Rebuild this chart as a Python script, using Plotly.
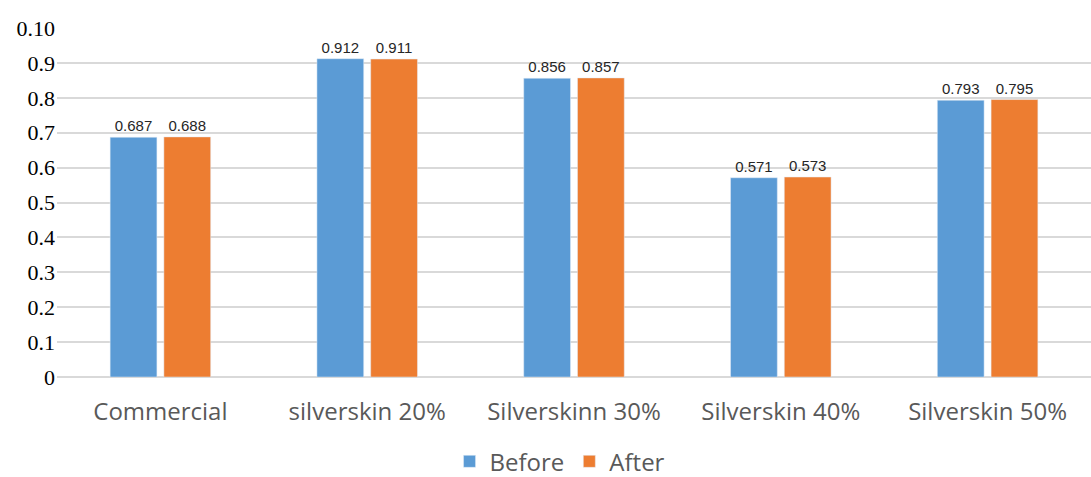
import plotly.graph_objects as go

categories = ["Commercial", "silverskin 20%", "Silverskinn 30%", "Silverskin 40%", "Silverskin 50%"]
before = [0.687, 0.912, 0.856, 0.571, 0.793]
after = [0.688, 0.911, 0.857, 0.573, 0.795]
tick_vals = [0, 0.1, 0.2, 0.3, 0.4, 0.5, 0.6, 0.7, 0.8, 0.9, 1.0]
tick_text = ["0", "0.1", "0.2", "0.3", "0.4", "0.5", "0.6", "0.7", "0.8", "0.9", "0.10"]

label_font = dict(family="Liberation Sans, Arial", size=15, color="#262626")
cat_font = dict(family="Open Sans, Liberation Sans", size=24, color="#595959")

fig = go.Figure()
fig.add_trace(go.Bar(
    name="Before", x=categories, y=before,
    marker=dict(color="#5B9BD5"),
    texttemplate="%{y:.3f}", textposition="outside", textfont=label_font,
    cliponaxis=False,
))
fig.add_trace(go.Bar(
    name="After", x=categories, y=after,
    marker=dict(color="#ED7D31"),
    texttemplate="%{y:.3f}", textposition="outside", textfont=label_font,
    cliponaxis=False,
))

fig.update_layout(
    width=1091, height=477,
    margin=dict(l=57, r=0, t=28, b=100),
    paper_bgcolor="white", plot_bgcolor="white",
    barmode="group", bargap=0.48, bargroupgap=0.13,
    showlegend=True,
    legend=dict(
        orientation="h", x=0.4865, xanchor="center",
        yref="container", y=0.032, yanchor="middle",
        font=cat_font, itemwidth=30, tracegroupgap=0,
    ),
    xaxis=dict(
        showgrid=False, showline=False, zeroline=False, ticks="",
        tickfont=cat_font, ticklabelstandoff=18,
    ),
    yaxis=dict(
        range=[0, 1.0], tickvals=tick_vals, ticktext=tick_text,
        showgrid=True, gridcolor="#D9D9D9", gridwidth=2,
        zeroline=True, zerolinecolor="#D9D9D9", zerolinewidth=2,
        showline=False, ticks="",
        tickfont=dict(family="Liberation Serif, Times New Roman", size=22, color="#000000"),
        ticklabelstandoff=1,
    ),
)

fig.write_html("out.html")
